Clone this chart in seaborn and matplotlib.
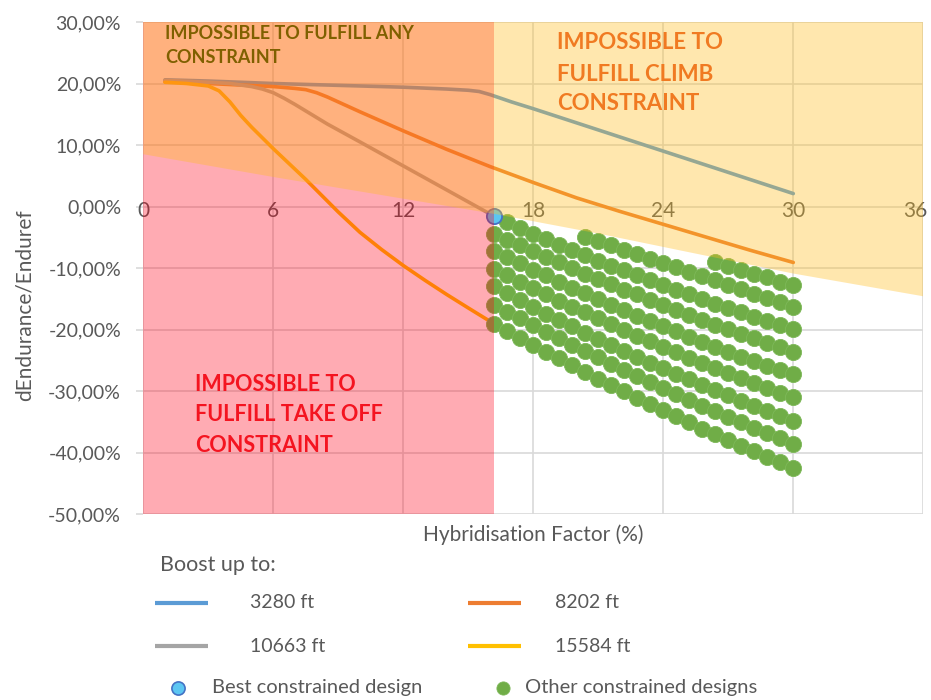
import matplotlib
matplotlib.use("Agg")
import matplotlib.pyplot as plt
import numpy as np
import pandas as pd
import seaborn as sns
from matplotlib.patches import Polygon, Rectangle

# ---------------------------------------------------------------- data
# boosted-climb curves: hybridisation factor (%) vs dEndurance/Enduref (%)
hf_3280 = [1, 3, 6, 9, 12, 14, 15, 15.5, 16, 16.5, 17, 18, 20, 22, 24, 26,
           28, 30]
dend_3280 = [20.6, 20.4, 20.0, 19.7, 19.4, 19.1, 18.9, 18.7, 18.2, 17.6, 17.0,
             15.9, 13.6, 11.3, 9.0, 6.7, 4.4, 2.1]

hf_8202 = [1, 3, 6, 7, 7.5, 8, 8.5, 9, 9.5, 10, 12, 14, 16, 18, 20, 22, 24,
           26, 28, 30]
dend_8202 = [20.3, 20.0, 19.5, 19.2, 19.0, 18.5, 17.8, 17.0, 16.2, 15.4, 12.3,
             9.3, 6.5, 3.9, 1.4, -0.8, -2.9, -5.0, -7.1, -9.1]

hf_10663 = [1, 3, 4, 5, 5.5, 6, 6.5, 7, 8.5, 10, 12, 14, 16.2]
dend_10663 = [20.5, 20.2, 20.0, 19.5, 19.1, 18.5, 17.6, 16.6, 13.4, 10.5, 6.6,
              2.7, -1.6]

hf_15584 = [1, 2, 3, 3.5, 4, 4.5, 5, 6, 7.5, 9, 10, 11, 12, 13, 14, 15, 16.2]
dend_15584 = [20.2, 20.0, 19.6, 18.8, 17.0, 14.8, 12.9, 9.4, 4.4, -0.9, -4.2,
              -7.0, -9.6, -12.0, -14.3, -16.5, -19.1]

series_names = ["3280 ft", "8202 ft", "10663 ft", "15584 ft"]
series_colors = ["#5B9BD5", "#ED7D31", "#A5A5A5", "#FFC000"]

# hybridisation factors evaluated for the constrained designs
hf_grid = [16.2, 16.8, 17.4, 18.0, 18.6, 19.2, 19.8, 20.4, 21.0, 21.6, 22.2,
           22.8, 23.4, 24.0, 24.6, 25.2, 25.8, 26.4, 27.0, 27.6, 28.2, 28.8,
           29.4, 30.0]

best_hf = 16.2
best_dend = -1.6

# constrained design families (first grid index, values)
fam0_start = 1
fam0 = [-2.5, -3.5, -4.4, -5.3, -6.2, -7.1, -7.9, -8.8, -9.6, -10.4, -11.2,
        -12.0, -12.8, -13.6, -14.3, -15.1, -15.8, -16.5, -17.2, -17.9, -18.6,
        -19.2, -19.9]
fam1_start = 0
fam1 = [-4.4, -5.4, -6.3, -7.3, -8.2, -9.1, -10.0, -10.9, -11.8, -12.6, -13.5,
        -14.3, -15.2, -16.0, -16.8, -17.6, -18.4, -19.2, -19.9, -20.7, -21.4,
        -22.2, -22.9, -23.6]
fam2_start = 0
fam2 = [-7.2, -8.2, -9.2, -10.3, -11.2, -12.2, -13.2, -14.1, -15.1, -16.0,
        -16.9, -17.8, -18.6, -19.5, -20.3, -21.2, -22.0, -22.8, -23.6, -24.4,
        -25.1, -25.9, -26.6, -27.3]
fam3_start = 0
fam3 = [-10.1, -11.2, -12.2, -13.2, -14.3, -15.3, -16.3, -17.2, -18.2, -19.1,
        -20.1, -21.0, -21.9, -22.8, -23.7, -24.6, -25.4, -26.3, -27.1, -27.9,
        -28.7, -29.5, -30.3, -31.0]
fam4_start = 0
fam4 = [-13.0, -14.1, -15.2, -16.3, -17.4, -18.4, -19.5, -20.5, -21.5, -22.5,
        -23.5, -24.4, -25.4, -26.3, -27.2, -28.1, -29.0, -29.9, -30.7, -31.6,
        -32.4, -33.2, -34.0, -34.8]
fam5_start = 0
fam5 = [-16.0, -17.1, -18.2, -19.3, -20.4, -21.4, -22.5, -23.5, -24.5, -25.6,
        -26.6, -27.6, -28.5, -29.5, -30.5, -31.4, -32.4, -33.3, -34.2, -35.1,
        -36.0, -36.9, -37.7, -38.6]
fam6_start = 0
fam6 = [-19.1, -20.3, -21.4, -22.5, -23.6, -24.7, -25.8, -26.9, -28.0, -29.0,
        -30.0, -31.1, -32.1, -33.1, -34.1, -35.1, -36.1, -37.0, -38.0, -38.9,
        -39.8, -40.7, -41.6, -42.5]
fam7_start = 7
fam7 = [-4.9, -5.6, -6.3, -7.0, -7.8, -8.5, -9.2, -9.9, -10.6, -11.3, -12.0,
        -12.7, -13.4, -14.2, -14.9, -15.6, -16.3]
fam8_start = 17
fam8 = [-9.0, -9.6, -10.3, -10.9, -11.5, -12.2, -12.8]

# constraint limits
takeoff_min_hf = 16.2
climb_hf = [0, 6, 16.2, 21, 25, 30, 36]
climb_dend = [8.5, 4.8, -1.2, -4.4, -7.3, -10.9, -14.6]

x_ticks = [0, 6, 12, 18, 24, 30, 36]
y_ticks = [-50, -40, -30, -20, -10, 0, 10, 20, 30]

# ---------------------------------------------------------------- style
sns.set_theme(style="white")
plt.rcParams["font.family"] = ["Lato", "DejaVu Sans"]

W, H = 931, 700
fig = plt.figure(figsize=(W / 100, H / 100), dpi=100)
ax = fig.add_axes([143.3 / W, 1 - 514 / H, 780 / W, 492 / H])
ax.set_xlim(0, 36)
ax.set_ylim(-50, 30)
for s in ax.spines.values():
    s.set_visible(False)

grid_c = "#D9D9D9"
text_c = "#595959"
for v in x_ticks:
    ax.axvline(v, color=grid_c, lw=1.2, zorder=0.5)
for v in y_ticks:
    ax.axhline(v, color=grid_c, lw=1.2, zorder=0.5)

ax.set_xticks(x_ticks)
ax.tick_params(axis="x", length=0, labelbottom=False)
ax.set_yticks(y_ticks)
ax.set_yticklabels([f"{v},00%" for v in y_ticks])
ax.tick_params(axis="y", length=5, width=1.2, color=grid_c, labelcolor=text_c,
               labelsize=14, pad=11, left=True)

# x tick labels sit on the 0 % line; the last one is pulled inside the frame
for v in x_ticks:
    xpos = v if v < 36 else 35.65
    ax.text(xpos, -0.8, str(v), ha="center", va="center", fontsize=15,
            color=text_c, zorder=1.5)

# ---------------------------------------------------------------- curves
curve_x = [hf_3280, hf_8202, hf_10663, hf_15584]
curve_y = [dend_3280, dend_8202, dend_10663, dend_15584]
for xs, ys, c in zip(curve_x, curve_y, series_colors):
    sns.lineplot(x=xs, y=ys, color=c, lw=2.6, ax=ax, zorder=3, sort=False)

# ---------------------------------------------------------------- designs
fams = [(fam0_start, fam0), (fam1_start, fam1), (fam2_start, fam2),
        (fam3_start, fam3), (fam4_start, fam4), (fam5_start, fam5),
        (fam6_start, fam6), (fam7_start, fam7), (fam8_start, fam8)]
rows = []
for i, (start, vals) in enumerate(fams):
    for j, v in enumerate(vals):
        rows.append({"family": i, "hf": hf_grid[start + j], "dend": v})
designs = pd.DataFrame(rows)

sns.scatterplot(data=designs, x="hf", y="dend", color="#70AD47", s=135,
                edgecolor="#7DB858", linewidth=0.6, ax=ax, zorder=4,
                legend=False)
sns.scatterplot(x=[best_hf], y=[best_dend], color="#5CC6F2", s=120,
                edgecolor="#4472C4", linewidth=1.3, ax=ax, zorder=5,
                legend=False)

# ---------------------------------------------------------------- regions
ax.add_patch(Rectangle((0, -50), takeoff_min_hf, 80, facecolor="#FF0018",
                       alpha=0.33, lw=0, zorder=6))
climb_poly = list(zip(climb_hf, climb_dend)) + [(36, 30), (0, 30)]
ax.add_patch(Polygon(climb_poly, closed=True, facecolor="#FFBE20",
                     alpha=0.36, lw=0, zorder=6))

bold = dict(fontweight="bold", ha="left", va="center", zorder=10)
for t, y in zip(["IMPOSSIBLE TO FULFILL ANY", "CONSTRAINT"], [28.2, 24.3]):
    ax.text(1.0, y, t, fontsize=13, color="#7F6000", **bold)
for t, y in zip(["IMPOSSIBLE TO", "FULFILL CLIMB", "CONSTRAINT"],
                [26.6, 21.5, 16.7]):
    ax.text(19.1, y, t, fontsize=16, color="#F07A22", **bold)
for t, y in zip(["IMPOSSIBLE TO", "FULFILL TAKE OFF", "CONSTRAINT"],
                [-28.9, -33.8, -38.9]):
    ax.text(2.4, y, t, fontsize=15.5, color="#F41420", **bold)

ax.set_xlabel("")
ax.set_ylabel("")

# ---------------------------------------------------------------- titles
fig.text(533 / W, 1 - 535 / H, "Hybridisation Factor (%)", ha="center",
         va="center", fontsize=15, color=text_c)
fig.text(25 / W, 1 - 305 / H, "dEndurance/Enduref", ha="center",
         va="center", rotation=90, fontsize=15, color=text_c)

# ---------------------------------------------------------------- legend
lax = fig.add_axes([0, 0, 1, 1])
lax.set_xlim(0, W)
lax.set_ylim(H, 0)
lax.axis("off")
lax.patch.set_alpha(0)

leg_font = 14.5
lax.text(160, 565, "Boost up to:", ha="left", va="center", fontsize=15.5,
         color=text_c)
slots = [(155, 250, 603), (468, 555, 603), (155, 250, 646), (468, 555, 646)]
for (x0, xt, y), name, c in zip(slots, series_names, series_colors):
    lax.plot([x0, x0 + 53], [y, y], color=c, lw=3, solid_capstyle="butt")
    lax.text(xt, y, name, ha="left", va="center", fontsize=leg_font - 0.5,
             color=text_c)

lax.scatter([178], [688], s=90, color="#5CC6F2", edgecolor="#4472C4", lw=1.2)
lax.text(212, 688, "Best constrained design", ha="left", va="center",
         fontsize=leg_font, color=text_c)
lax.scatter([503], [688], s=90, color="#70AD47", edgecolor="#7DB858", lw=0.6)
lax.text(525, 688, "Other constrained designs", ha="left", va="center",
         fontsize=leg_font, color=text_c)

fig.savefig("out.png", dpi=100)
